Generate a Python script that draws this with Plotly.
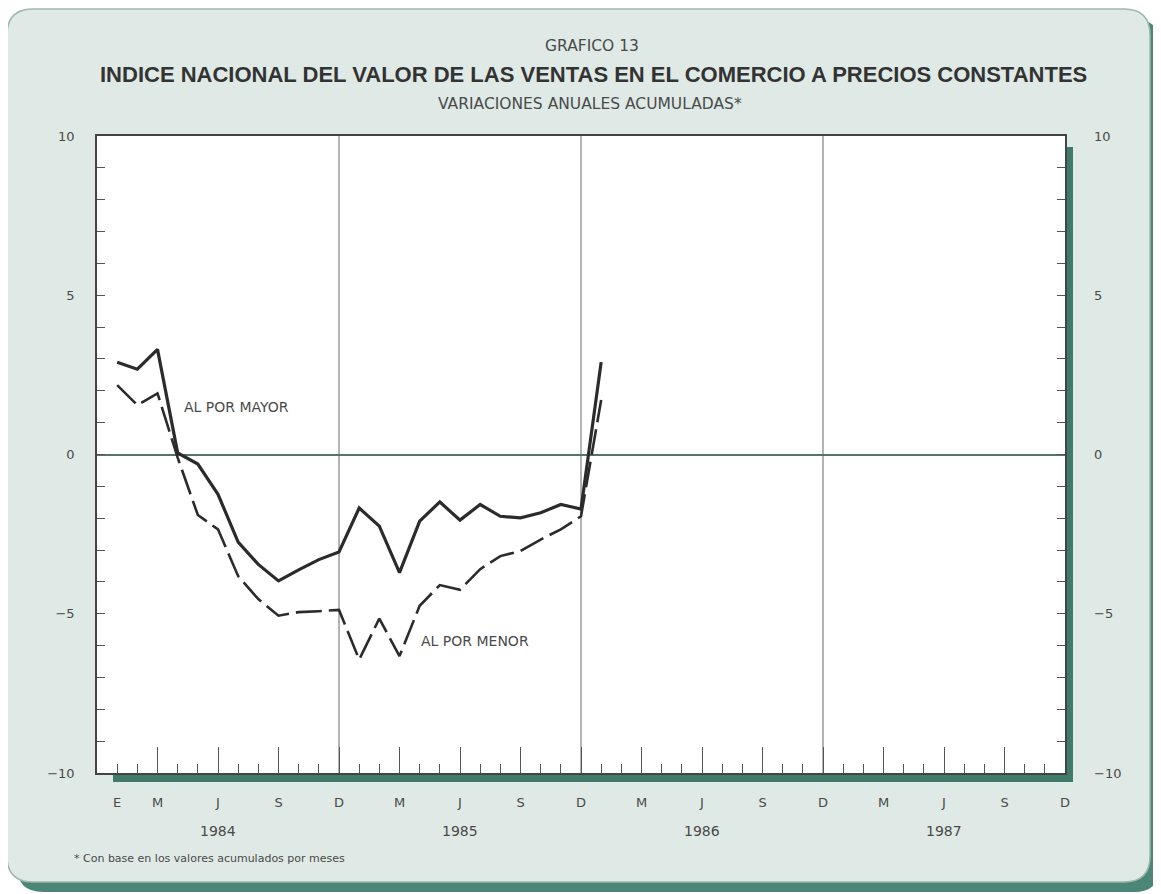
import plotly.graph_objects as go

# ---------------- data ----------------
months = ["1984-01", "1984-02", "1984-03", "1984-04", "1984-05", "1984-06",
          "1984-07", "1984-08", "1984-09", "1984-10", "1984-11", "1984-12",
          "1985-01", "1985-02", "1985-03", "1985-04", "1985-05", "1985-06",
          "1985-07", "1985-08", "1985-09", "1985-10", "1985-11", "1985-12",
          "1986-01"]
al_por_mayor = [2.9, 2.68, 3.3, 0.05, -0.3, -1.25, -2.75, -3.45, -3.97, -3.62, -3.3, -3.06,
                -1.68, -2.25, -3.71, -2.09, -1.49, -2.06, -1.57, -1.94, -1.99, -1.83, -1.57, -1.71,
                2.9]
al_por_menor = [2.18, 1.55, 1.92, -0.1, -1.9, -2.35, -3.82, -4.54, -5.06, -4.95, -4.92, -4.88,
                -6.44, -5.15, -6.33, -4.75, -4.1, -4.25, -3.6, -3.19, -3.03, -2.67, -2.35, -1.94,
                1.71]
years = ["1984", "1985", "1986", "1987"]
quarter_labels = ["M", "J", "S", "D"]
y_ticks = list(range(-10, 11))

# ---------------- geometry helpers (page pixels; body margin 8px) ----------------
O = 8
W, H = 1161 - O, 894 - O
L, R, T, B = 97 - O, 1065 - O, 136 - O, 773 - O
PW, PH = R - L, B - T


def fx(px):
    return (px - O - L) / PW


def fy(py):
    return (B - (py - O)) / PH


def rounded_rect(x0, y0, x1, y1, r):
    rx, ry = r / PW, r / PH
    a0, b1 = fx(x0), fy(y0)
    a1, b0 = fx(x1), fy(y1)
    return (f"M {a0+rx},{b1} L {a1-rx},{b1} Q {a1},{b1} {a1},{b1-ry} "
            f"L {a1},{b0+ry} Q {a1},{b0} {a1-rx},{b0} L {a0+rx},{b0} "
            f"Q {a0},{b0} {a0},{b0+ry} L {a0},{b1-ry} Q {a0},{b1} {a0+rx},{b1} Z")


x_idx = list(range(len(months)))
n_months_total = len(years) * 12
tickvals = [y * 12 + q * 3 + 2 for y in range(len(years)) for q in range(4)]
ticktext = [quarter_labels[q] for y in range(len(years)) for q in range(4)]
ytext = [(("\u2212" if v < 0 else "") + str(abs(v))) if v % 5 == 0 else "" for v in y_ticks]

TEAL = "#3f7a6b"
MINT = "#dfe9e5"
TXT = "#4a4a4a"
FONT = "DejaVu Sans"

fig = go.Figure()
fig.add_trace(go.Scatter(x=x_idx, y=al_por_mayor, mode="lines", name="AL POR MAYOR",
                         line=dict(color="#2b2b2b", width=3.2), showlegend=False))
fig.add_trace(go.Scatter(x=x_idx, y=al_por_menor, mode="lines", name="AL POR MENOR", yaxis="y2",
                         line=dict(color="#2b2b2b", width=2.6, dash="26px,7px"), showlegend=False))

shapes = [
    dict(type="path", xref="paper", yref="paper", path=rounded_rect(17, 19, 1160, 892, 26),
         fillcolor="#4c8676", line=dict(width=0), layer="below"),
    dict(type="path", xref="paper", yref="paper", path=rounded_rect(7, 9, 1150, 882, 26),
         fillcolor=MINT, line=dict(color="#9fb6af", width=1.5), layer="below"),
    dict(type="rect", xref="paper", yref="paper", x0=fx(113), x1=fx(1073), y0=fy(782), y1=fy(147),
         fillcolor=TEAL, line=dict(width=0), layer="below"),
    dict(type="rect", xref="paper", yref="paper", x0=0, x1=1, y0=0, y1=1,
         fillcolor="white", line=dict(width=0), layer="below"),
]
for yi in range(len(years) - 1):
    xv = yi * 12 + 11
    shapes.append(dict(type="line", xref="x", yref="paper", x0=xv, x1=xv, y0=0, y1=1,
                       line=dict(color="#808080", width=1.2), layer="below"))

annotations = [
    dict(text="GRAFICO 13", x=fx(592), y=fy(46), xref="paper", yref="paper", showarrow=False,
         font=dict(family=FONT, size=15.5, color=TXT), xanchor="center", yanchor="middle"),
    dict(text="<b>INDICE NACIONAL DEL VALOR DE LAS VENTAS EN EL COMERCIO A PRECIOS CONSTANTES</b>",
         x=fx(593), y=fy(74), xref="paper", yref="paper", showarrow=False,
         font=dict(family="Liberation Sans", size=22, color="#333333"), xanchor="center", yanchor="middle"),
    dict(text="VARIACIONES ANUALES ACUMULADAS*", x=fx(590), y=fy(104), xref="paper", yref="paper",
         showarrow=False, font=dict(family=FONT, size=15.5, color=TXT),
         xanchor="center", yanchor="middle"),
    dict(text="AL POR MAYOR", x=3.2, y=1.5, xref="x", yref="y", showarrow=False, xanchor="left",
         yanchor="middle", font=dict(family=FONT, size=14, color=TXT)),
    dict(text="AL POR MENOR", x=14.95, y=-5.84, xref="x", yref="y", showarrow=False, xanchor="left",
         yanchor="middle", font=dict(family=FONT, size=14, color=TXT)),
    dict(text="E", x=0, y=fy(802), xref="x", yref="paper", showarrow=False, xanchor="center",
         yanchor="middle", font=dict(family=FONT, size=13, color=TXT)),
    dict(text="* Con base en los valores acumulados por meses", x=fx(72), y=fy(858), xref="paper",
         yref="paper", showarrow=False, xanchor="left", yanchor="middle",
         font=dict(family=FONT, size=11, color=TXT)),
]
for yi, yr in enumerate(years):
    annotations.append(dict(text=yr, x=yi * 12 + 5, y=fy(831), xref="x", yref="paper", showarrow=False,
                            xanchor="center", yanchor="middle",
                            font=dict(family=FONT, size=14, color=TXT)))

fig.update_layout(
    width=W, height=H,
    margin=dict(l=L, r=W - R, t=T, b=H - B, pad=0),
    paper_bgcolor="white", plot_bgcolor="rgba(0,0,0,0)",
    showlegend=False,
    shapes=shapes, annotations=annotations,
    xaxis=dict(range=[-1, n_months_total - 1], tickvals=tickvals, ticktext=ticktext,
               ticks="inside", ticklen=26, tickwidth=1.3, tickcolor="#555",
               minor=dict(ticks="inside", ticklen=9, dtick=1, tick0=0, tickwidth=1.3,
                          tickcolor="#555", showgrid=False),
               showgrid=False, zeroline=False, showline=True, mirror=True,
               linecolor="#444", linewidth=1.5, ticklabelstandoff=17,
               tickfont=dict(family=FONT, size=13, color=TXT)),
    yaxis=dict(range=[-10, 10], tickvals=y_ticks, ticktext=ytext, ticks="inside", ticklen=8,
               tickwidth=1.3, tickcolor="#555", showgrid=False, zeroline=True,
               zerolinecolor="#58736c", zerolinewidth=1.6, showline=True, mirror=True,
               linecolor="#444", linewidth=1.5, ticklabelstandoff=18,
               tickfont=dict(family=FONT, size=13, color=TXT)),
    yaxis2=dict(range=[-10, 10], overlaying="y", side="right", tickvals=y_ticks, ticktext=ytext,
                ticks="inside", ticklen=8, tickwidth=1.3, tickcolor="#555", showgrid=False,
                zeroline=False, showline=False, ticklabelstandoff=28,
                tickfont=dict(family=FONT, size=13, color=TXT)),
)

fig.write_html("out.html")
